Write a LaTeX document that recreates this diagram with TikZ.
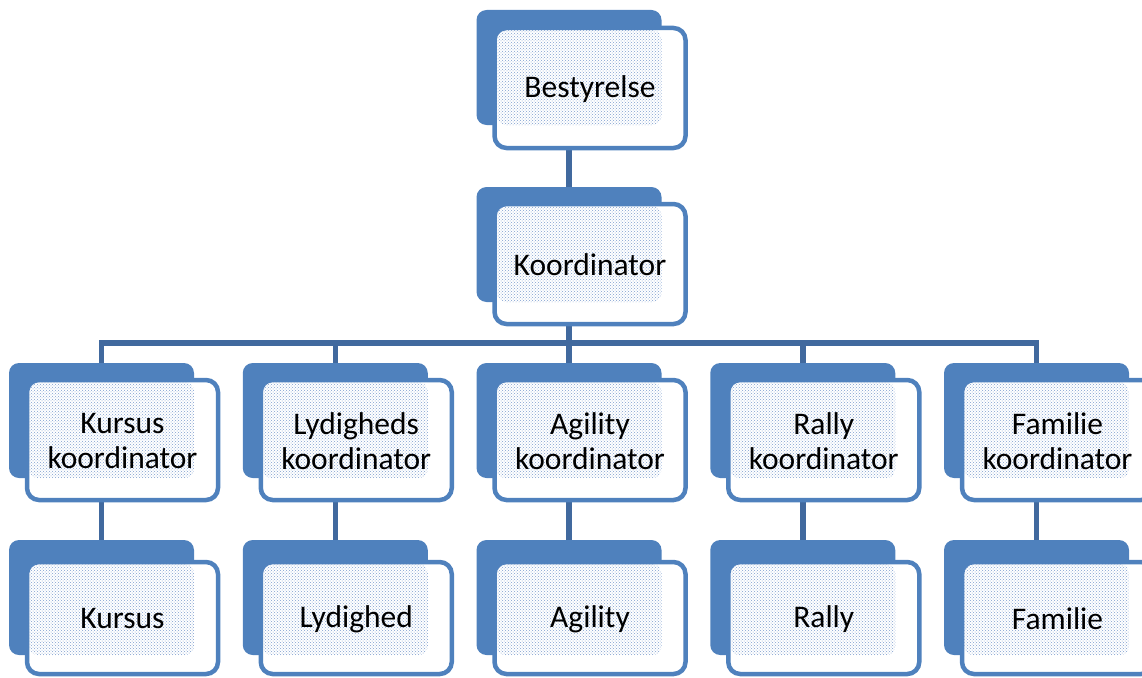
\documentclass[tikz,border=0pt]{standalone}
\usepackage{fontspec}
\setmainfont{Carlito}
\usetikzlibrary{calc,patterns,backgrounds}
\definecolor{boxblue}{HTML}{4F81BD}
\definecolor{connblue}{HTML}{41699E}
\definecolor{dotblue}{HTML}{7F9FCF}
\tikzset{
  backbox/.style={rectangle, rounded corners=10pt, fill=boxblue, minimum width=185pt, minimum height=115pt, inner sep=0pt, outer sep=0pt, anchor=north west},
  frontbox/.style={rectangle, rounded corners=12pt, fill=white, draw=boxblue, line width=4.5pt, minimum width=191pt, minimum height=120pt, inner sep=0pt, outer sep=0pt, anchor=north west},
  lowfront/.style={frontbox, minimum height=112pt},
  overlap/.style={pattern=crosshatch dots, pattern color=dotblue},
  lbl/.style={font=\fontsize{31.5}{35}\selectfont, align=center, text=black, inner sep=0pt},
  conn/.style={draw=connblue, line width=5.5pt}
}
\newcommand\orgunit[6]{%
  % #1 name, #2 x0, #3 back top, #4 front top, #5 front style, #6 text
  \node[backbox] (b-#1) at (#2,#3) {};
  \node[#5] (#1) at ($(#2,#4)+(18,0)$) {};
  \fill[overlap, rounded corners=9pt] ($(#1.north west)+(2.25,2.25)$) rectangle (b-#1.south east);
  \node[lbl] (t-#1) at ($(#1.center)+(0,1)$) {#6};
}
\begin{document}
\begin{tikzpicture}[x=1pt,y=-1pt]
\useasboundingbox (0,0) rectangle (1142,677);
\coordinate (bus) at (0,343);
\orgunit{best}{476.5}{10}{28}{frontbox}{Bestyrelse}
\orgunit{koord}{476.5}{187}{204}{frontbox}{Koordinator}
\orgunit{kk}{9}{363}{380}{frontbox}{Kursus\\koordinator}
\orgunit{lk}{242.75}{363}{380}{frontbox}{Lydigheds\\koordinator}
\orgunit{ak}{476.5}{363}{380}{frontbox}{Agility\\koordinator}
\orgunit{rk}{710.25}{363}{380}{frontbox}{Rally\\koordinator}
\orgunit{fk}{944}{363}{380}{frontbox}{Familie\\koordinator}
\orgunit{k}{9}{540}{562}{lowfront}{Kursus}
\orgunit{l}{242.75}{540}{562}{lowfront}{Lydighed}
\orgunit{a}{476.5}{540}{562}{lowfront}{Agility}
\orgunit{r}{710.25}{540}{562}{lowfront}{Rally}
\orgunit{f}{944}{540}{562}{lowfront}{Familie}
\begin{scope}[on background layer]
  \draw[conn] (b-best.south) -- (b-koord.north);
  \foreach \c in {kk,lk,ak,rk,fk} {
    \draw[conn] (b-koord.south) -- (b-koord.south |- bus) -| (b-\c.north);
  }
  \draw[conn] (b-kk.south) -- (b-k.north);
  \draw[conn] (b-lk.south) -- (b-l.north);
  \draw[conn] (b-ak.south) -- (b-a.north);
  \draw[conn] (b-rk.south) -- (b-r.north);
  \draw[conn] (b-fk.south) -- (b-f.north);
\end{scope}
\end{tikzpicture}
\end{document}
